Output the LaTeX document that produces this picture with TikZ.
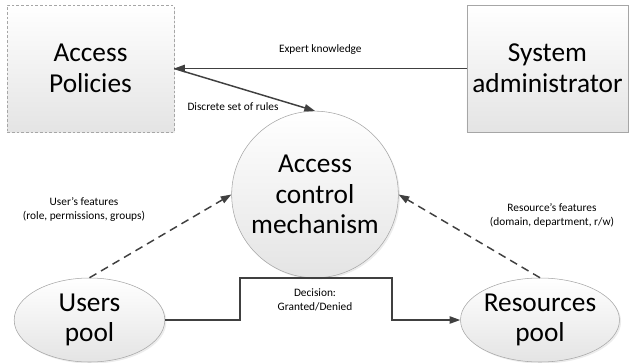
\documentclass[tikz,border=0pt]{standalone}
\usepackage{fontspec}
\setmainfont{Carlito}
\usepackage{tikz}
\usetikzlibrary{shapes.geometric,positioning,arrows.meta,shadows}
\definecolor{lineclr}{HTML}{404040}
\definecolor{edgeclr}{HTML}{A6A6A6}
\definecolor{fillclr}{HTML}{E4E4E4}

\begin{document}
\begin{tikzpicture}[x=0.75pt, y=-0.75pt,
    basenode/.style={top color=white, bottom color=fillclr, draw=edgeclr, thin,
                  font=\fontsize{20.5}{23}\selectfont, align=center, inner sep=0pt,
                  drop shadow={opacity=0.15, shadow xshift=1.2pt, shadow yshift=-1.2pt}},
    boxnode/.style={basenode, rectangle, minimum height=95pt},
    roundnode/.style={basenode, ellipse, minimum height=63pt},
    lbl/.style={font=\fontsize{8.5}{10.5}\selectfont, align=center, text=black},
    flow/.style={draw=lineclr, line width=1.1pt, -{Triangle[length=8pt,width=5.5pt]}},
    feat/.style={flow, dash pattern=on 6pt off 4pt},
  ]
  \useasboundingbox (0,0) rectangle (629,362);

  \node[boxnode, dash pattern=on 2pt off 1.5pt, minimum width=125pt] (pol) at (90.5,68.5) {Access\\Policies};
  \node[boxnode, minimum width=121pt] (adm) at (547.5,68.5) {System\\administrator};
  \node[basenode, circle, minimum size=125pt] (acm) at (315,194.5) {Access\\control\\mechanism};
  \node[roundnode, minimum width=113pt] (usr) at (89.5,320) {Users\\pool};
  \node[roundnode, minimum width=109.5pt] (res) at (540,320) {Resources\\pool};

  \draw[flow] (adm.west) -- node[lbl, above=7pt] {Expert knowledge} (pol.east);
  \draw[flow] (pol.east) -- (acm.north);
  \node[lbl] (rules) at (233,107) {Discrete set of rules};

  \draw[feat] (usr.north) -- (acm.west);
  \node[lbl] (ufeat) at (84,209) {User's features\\(role, permissions, groups)};
  \draw[feat] (res.north) -- (acm.east);
  \node[lbl] (rfeat) at (552,215) {Resource's features\\(domain, department, r/w)};

  \draw[flow] (usr.east) -| (240,278) -| (392,320) -- (res.west);
  \node[lbl] (dec) at (315,300) {Decision:\\Granted/Denied};
\end{tikzpicture}
\end{document}
